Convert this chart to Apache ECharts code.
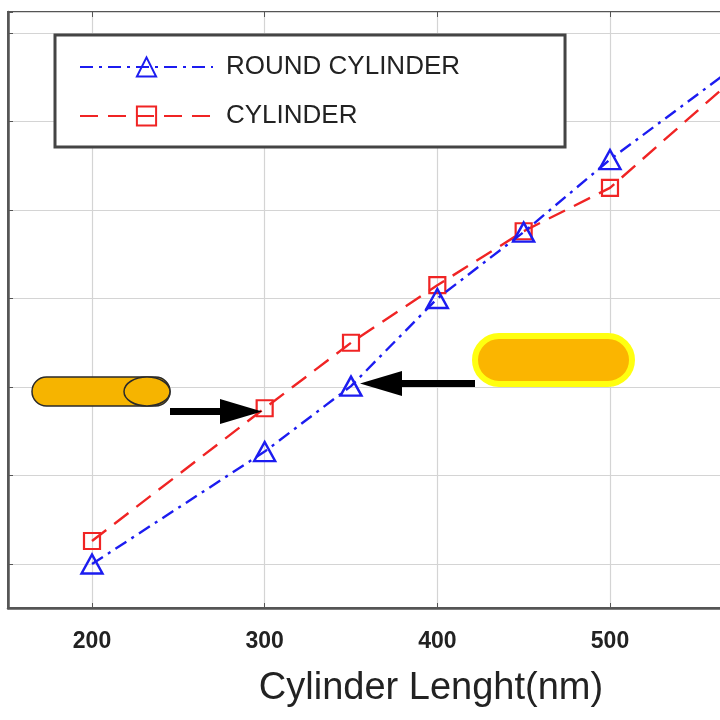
<!DOCTYPE html>
<html lang="en">
<head>
    <meta charset="UTF-8">
    <title>Cylinder length</title>
    <script src="https://cdn.jsdelivr.net/npm/echarts@6/dist/echarts.min.js"></script>
    <style>
        html, body { margin: 0; padding: 0; background: #fff; }
    </style>
</head>
<body>
    <div id="myChart" style="width: 720px; height: 720px;"></div>
    <script>
        // data (y axis labels are cut off, units are arbitrary)
        const lengths = [200, 300, 350, 400, 450, 500, 600];
        const roundCylinder = [600, 727, 801, 900, 975, 1057, 1202];
        const cylinder = [626, 776, 850, 915, 976, 1025, 1197];
        const seriesNames = ['ROUND CYLINDER', 'CYLINDER'];
        const xName = 'Cylinder Lenght(nm)';

        var myChart = echarts.init(document.getElementById('myChart'));

        var font = 'Liberation Sans';

        function pairs(ys) {
            return lengths.map(function (x, i) { return [x, ys[i]]; });
        }

        option = {
            animation: false,
            backgroundColor: '#fff',
            grid: {
                left: 8, top: 12, width: 732, bottom: 112,
                outerBoundsMode: 'none',
                show: true,
                borderColor: '#555',
                borderWidth: 2
            },
            legend: {
                orient: 'vertical',
                left: 55,
                top: 35,
                padding: [19, 105, 18, 24],
                itemWidth: 133,
                itemHeight: 24,
                itemGap: 23,
                backgroundColor: '#fff',
                borderColor: '#444',
                borderWidth: 3,
                textStyle: { fontFamily: font, fontSize: 26, color: '#222', padding: [0, 0, 0, 8] },
                data: seriesNames
            },
            xAxis: [{
                type: 'value',
                min: 151.35,
                max: 575.3,
                name: xName,
                nameLocation: 'middle',
                nameGap: 62,
                nameTextStyle: { fontFamily: font, fontSize: 38, color: '#222', padding: [0, 0, 0, 114] },
                axisLine: { show: true, lineStyle: { color: '#555', width: 2.5 } },
                axisTick: { show: true, inside: true, length: 5, lineStyle: { color: '#555' } },
                axisLabel: {
                    fontFamily: font, fontSize: 23, fontWeight: 'bold', color: '#222', margin: 22,
                    showMinLabel: false, showMaxLabel: false
                },
                splitLine: { show: true, lineStyle: { color: '#d4d4d4', width: 1.2 } }
            }, {
                type: 'value',
                position: 'top',
                min: 151.35,
                max: 575.3,
                axisLine: { show: false },
                axisTick: { show: true, inside: true, length: 5, lineStyle: { color: '#555' } },
                axisLabel: { show: false },
                splitLine: { show: false }
            }],
            yAxis: {
                type: 'value',
                min: 550.3,
                max: 1223.7,
                axisLine: { show: true, lineStyle: { color: '#555', width: 2.5 } },
                axisTick: { show: true, inside: true, length: 5, lineStyle: { color: '#555' } },
                axisLabel: { show: false },
                splitLine: { show: true, lineStyle: { color: '#d4d4d4', width: 1.2 } }
            },
            series: [
                {
                    name: seriesNames[0],
                    type: 'line',
                    data: pairs(roundCylinder),
                    clip: true,
                    symbol: 'triangle',
                    symbolSize: [21, 19],
                    showAllSymbol: true,
                    lineStyle: { color: '#1c1cf0', width: 2.4, type: [13, 6, 3, 6] },
                    itemStyle: { color: 'rgba(0,0,0,0)', borderColor: '#1c1cf0', borderWidth: 2.4 },
                    z: 3
                },
                {
                    name: seriesNames[1],
                    type: 'line',
                    data: pairs(cylinder),
                    clip: true,
                    symbol: 'rect',
                    symbolSize: 16,
                    lineStyle: { color: '#f02424', width: 2.4, type: [18, 10] },
                    itemStyle: { color: 'rgba(0,0,0,0)', borderColor: '#f02424', borderWidth: 2.2 },
                    z: 2
                }
            ],
            graphic: [
                // left cylinder picture + arrow
                {
                    type: 'rect', shape: { x: 32, y: 377, width: 138, height: 29, r: 14.5 },
                    style: { fill: '#f6b400', stroke: '#2a2a2a', lineWidth: 1.5 }, z: 10
                },
                {
                    type: 'ellipse', shape: { cx: 147, cy: 391.5, rx: 23, ry: 14.5 },
                    style: { fill: '#f6b400', stroke: '#2a2a2a', lineWidth: 1.5 }, z: 11
                },
                {
                    type: 'rect', shape: { x: 170, y: 408, width: 55, height: 7 },
                    style: { fill: '#000' }, z: 10
                },
                {
                    type: 'polygon', shape: { points: [[220, 399], [262, 411.5], [220, 424]] },
                    style: { fill: '#000' }, z: 10
                },
                // right round cylinder picture + arrow
                {
                    type: 'rect', shape: { x: 475, y: 336, width: 157, height: 48, r: 24 },
                    style: { fill: '#fbb500', stroke: '#ffff10', lineWidth: 6 }, z: 10
                },
                {
                    type: 'rect', shape: { x: 398, y: 380, width: 77, height: 7 },
                    style: { fill: '#000' }, z: 10
                },
                {
                    type: 'polygon', shape: { points: [[402, 371], [360, 383.5], [402, 396]] },
                    style: { fill: '#000' }, z: 10
                }
            ]
        };
        myChart.setOption(option);
    </script>
</body>
</html>
